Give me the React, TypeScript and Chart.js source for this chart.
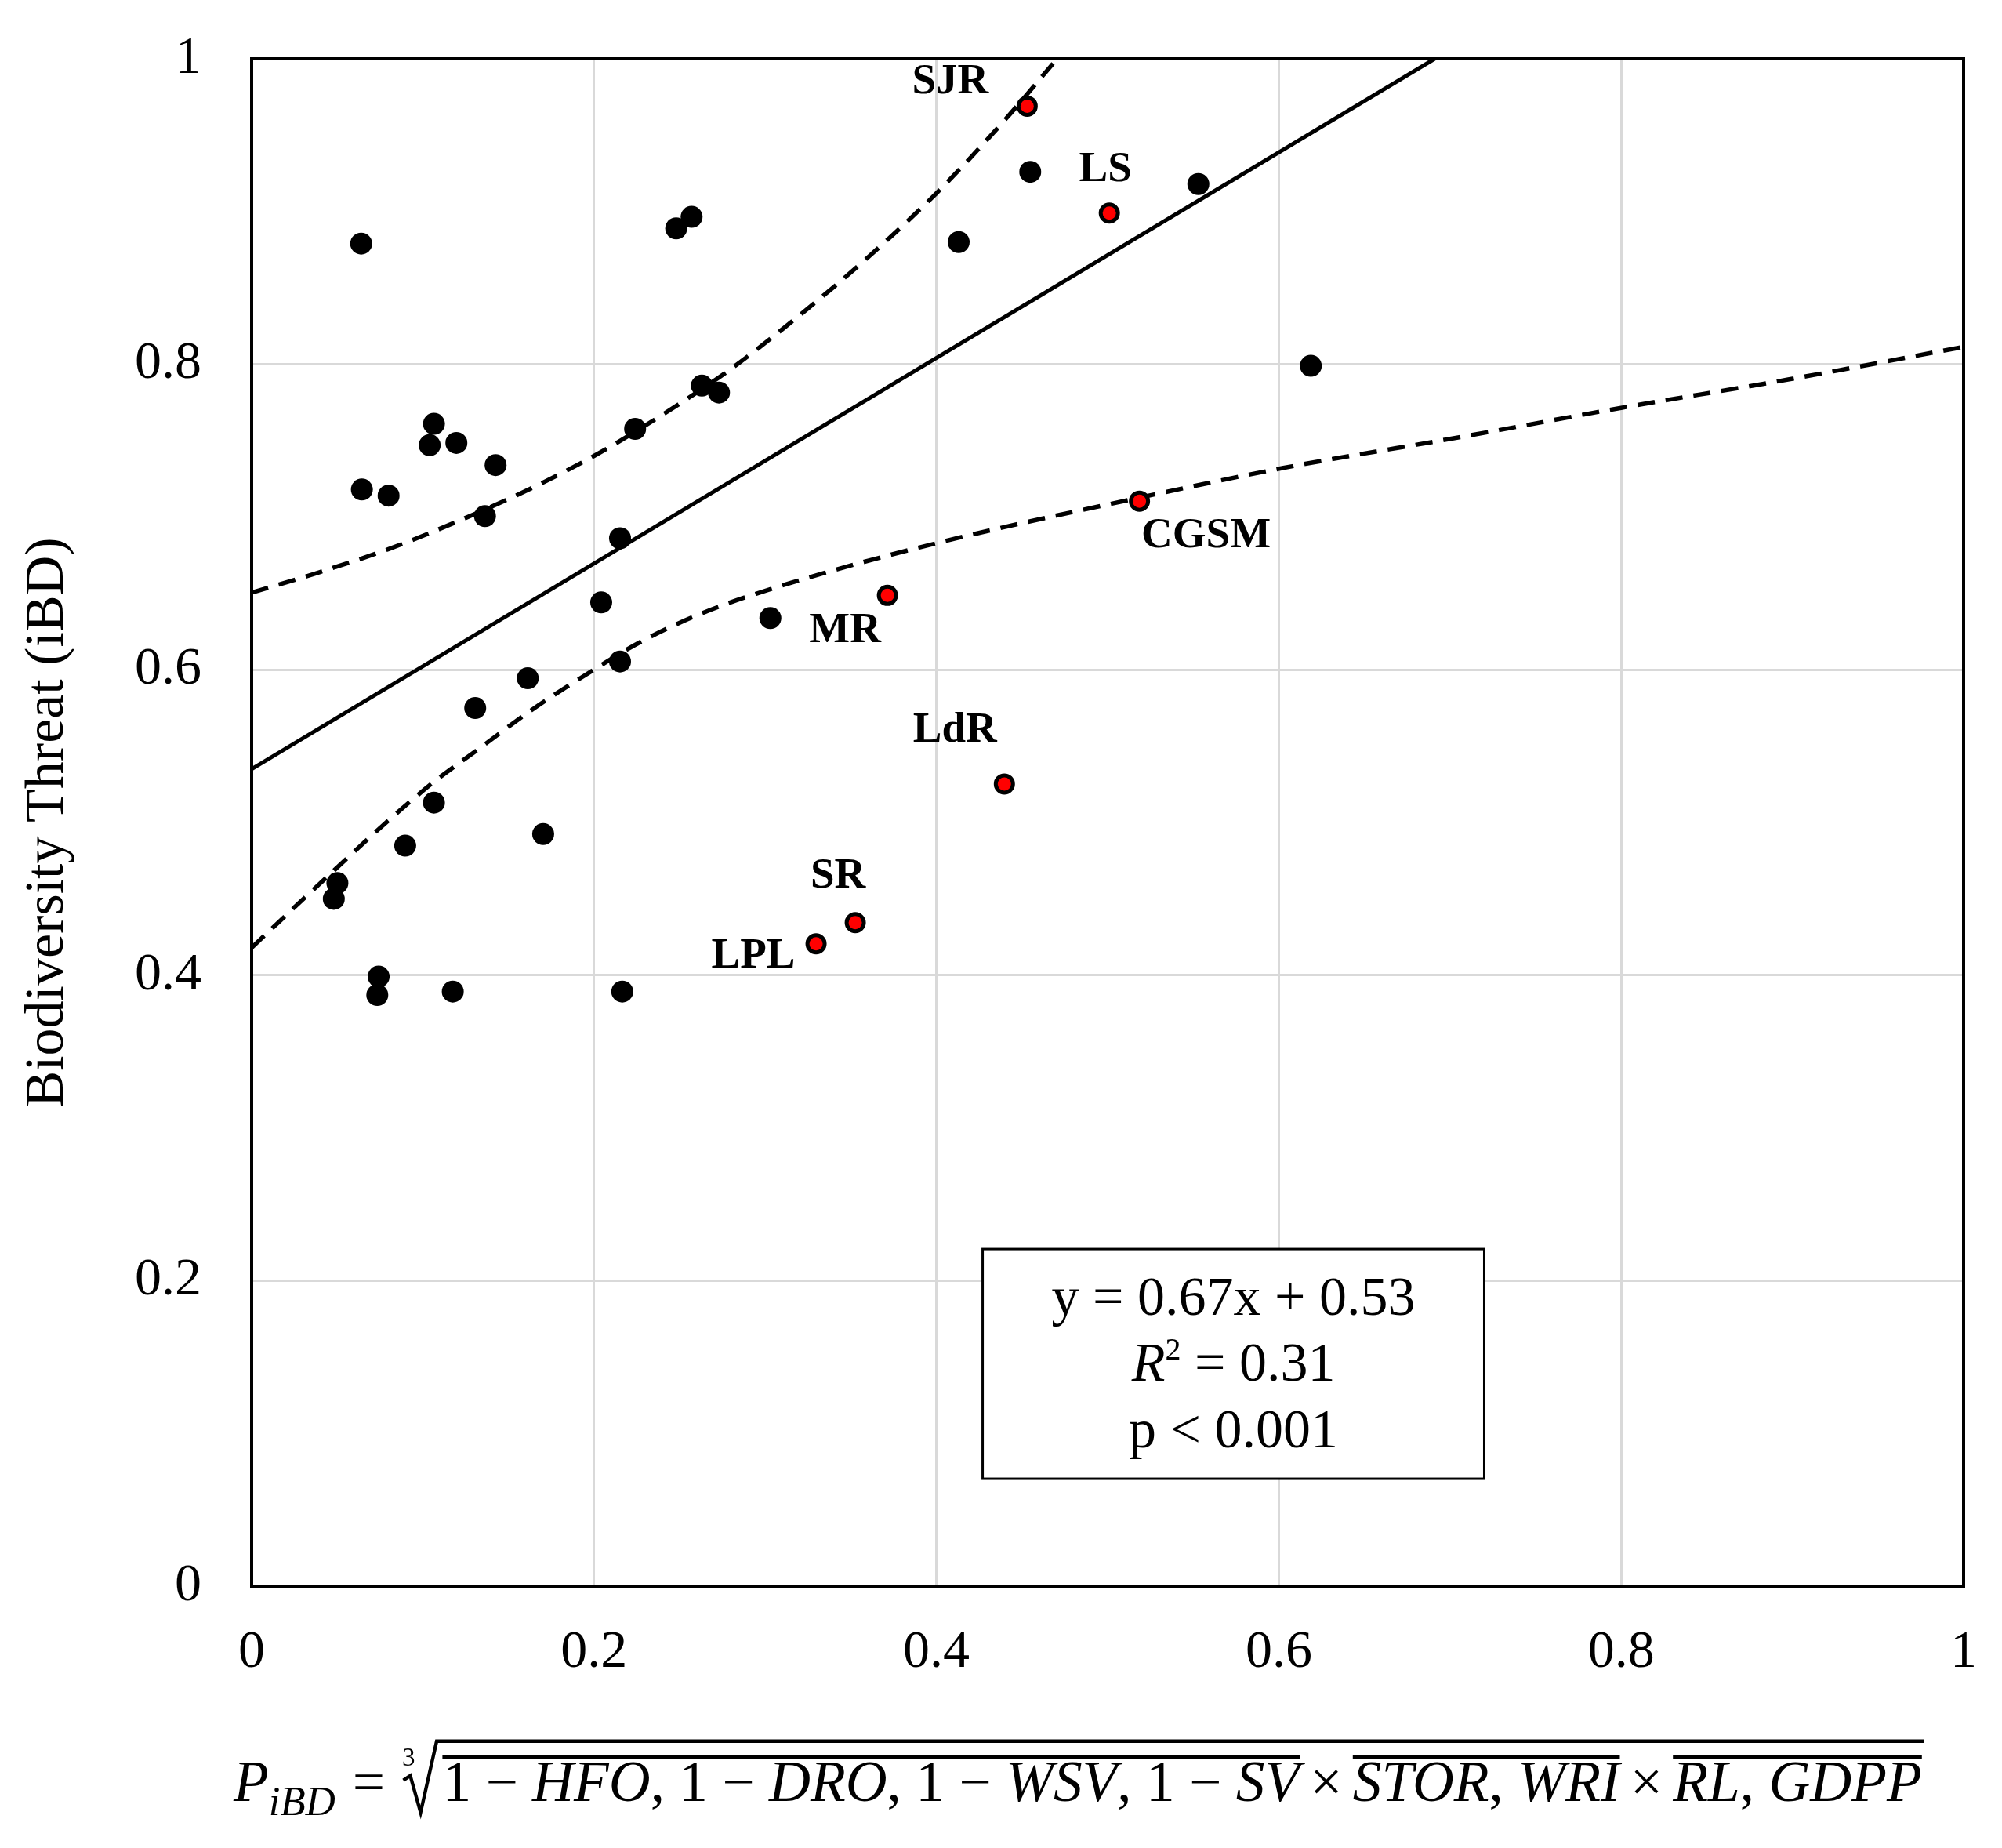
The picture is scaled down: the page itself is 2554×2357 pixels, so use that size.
import React, { useEffect, useRef } from "react";
import { Chart, registerables } from "chart.js";

Chart.register(...registerables);

// ---------- data ----------
const BLACK_X = [0.064, 0.0644, 0.08, 0.1065, 0.104, 0.1196, 0.1425, 0.1363, 0.248, 0.257, 0.263, 0.273, 0.224, 0.2152, 0.2042, 0.303, 0.2152, 0.1613, 0.1306, 0.1065, 0.1703, 0.0897, 0.0501, 0.048, 0.0742, 0.0734, 0.1175, 0.2165, 0.413, 0.4548, 0.553, 0.6187];
const BLACK_Y = [0.879, 0.718, 0.714, 0.761, 0.747, 0.7485, 0.734, 0.7006, 0.889, 0.8965, 0.786, 0.7815, 0.7577, 0.6861, 0.6441, 0.6338, 0.6054, 0.5944, 0.5749, 0.513, 0.4924, 0.4848, 0.4603, 0.45, 0.3991, 0.387, 0.3893, 0.3893, 0.88, 0.926, 0.918, 0.799];

const RED_NAMES = ["SJR", "LS", "CGSM", "MR", "LdR", "SR", "LPL"];
const RED_X = [0.453, 0.501, 0.5186, 0.3714, 0.4397, 0.3526, 0.3297];
const RED_Y = [0.969, 0.899, 0.7104, 0.6487, 0.5252, 0.4344, 0.4206];

const FIT_X = [0, 0.691];
const FIT_Y = [0.535, 1.0];

const UPPER_X = [0, 0.04, 0.08, 0.12, 0.16, 0.2, 0.24, 0.28, 0.32, 0.36, 0.4, 0.44, 0.4705];
const UPPER_Y = [0.6505, 0.664, 0.679, 0.697, 0.717, 0.74, 0.767, 0.797, 0.832, 0.87, 0.912, 0.96, 1.0];

const LOWER_X = [0, 0.0241, 0.0485, 0.0772, 0.1058, 0.1344, 0.163, 0.1999, 0.2285, 0.2653, 0.3153, 0.399, 0.518, 0.602, 0.708, 0.8006, 0.8975, 1.0];
const LOWER_Y = [0.418, 0.4435, 0.469, 0.4986, 0.526, 0.5496, 0.5732, 0.6, 0.619, 0.638, 0.657, 0.6826, 0.7125, 0.732, 0.7527, 0.7716, 0.79, 0.8114];

const X_TICK_LABELS = ["0", "0.2", "0.4", "0.6", "0.8", "1"];
const Y_TICK_LABELS = ["0", "0.2", "0.4", "0.6", "0.8", "1"];

const Y_TITLE = "Biodiversity Threat (iBD)";
const STATS_LINES = ["y = 0.67x + 0.53", "R2 = 0.31", "p < 0.001"];

// ---------- annotation placement (not data) ----------
const LABEL_OFFSETS: [number, number][] = [[-98, -31], [-5, -55], [85, 45], [-54, 45], [-63, -68], [-22, -59], [-80, 16]];
const STATS_BOX = { x0: 0.427, x1: 0.72, y0: 0.0703, y1: 0.2207 };

type Seg = { t: string; it?: boolean };
const FORMULA_GROUPS: Seg[][] = [
  [{ t: "1" }, { t: " − " }, { t: "HFO", it: true }, { t: ", " }, { t: "1" }, { t: " − " }, { t: "DRO", it: true }, { t: ", " }, { t: "1" }, { t: " − " }, { t: "WSV", it: true }, { t: ", " }, { t: "1" }, { t: " − " }, { t: "SV", it: true }],
  [{ t: "STOR", it: true }, { t: ", " }, { t: "WRI", it: true }],
  [{ t: "RL", it: true }, { t: ", " }, { t: "GDPP", it: true }],
];

const SERIF = '"Liberation Serif", "Times New Roman", serif';

function drawFormula(ctx: CanvasRenderingContext2D, x0: number, x1: number, baseline: number) {
  const up = (s: number) => `${s}px ${SERIF}`;
  const it = (s: number) => `italic ${s}px ${SERIF}`;
  const layout = (F: number, draw: boolean) => {
    let x = x0;
    const put = (t: string, font: string, dy = 0) => {
      ctx.font = font;
      const w = ctx.measureText(t).width;
      if (draw) ctx.fillText(t, x, baseline + dy);
      x += w;
    };
    put("P", it(F));
    put("iBD", it(0.72 * F), 0.24 * F);
    x += 0.3 * F;
    put("=", up(F));
    x += 0.3 * F;
    const rx = x;
    const topY = baseline - 1.04 * F;
    const radW = 0.6 * F;
    x += radW + 0.1 * F;
    const groupEnds: [number, number][] = [];
    FORMULA_GROUPS.forEach((g, gi) => {
      if (gi > 0) {
        x += 0.18 * F;
        put("×", up(F));
        x += 0.18 * F;
      }
      const gs = x;
      g.forEach((seg) => put(seg.t, seg.it ? it(F) : up(F)));
      groupEnds.push([gs, x]);
    });
    const endX = x + 0.04 * F;
    if (draw) {
      ctx.lineWidth = 0.06 * F;
      ctx.strokeStyle = "#000";
      groupEnds.forEach(([a, b]) => {
        ctx.beginPath();
        ctx.moveTo(a, baseline - 0.76 * F);
        ctx.lineTo(b, baseline - 0.76 * F);
        ctx.stroke();
      });
      ctx.font = up(0.45 * F);
      ctx.fillText("3", rx, baseline - 0.62 * F);
      ctx.lineJoin = "miter";
      ctx.beginPath();
      ctx.moveTo(rx + 0.02 * F, baseline - 0.36 * F);
      ctx.lineTo(rx + 0.14 * F, baseline - 0.44 * F);
      ctx.lineTo(rx + 0.32 * F, baseline + 0.2 * F);
      ctx.lineTo(rx + radW, topY);
      ctx.lineTo(endX, topY);
      ctx.stroke();
    }
    return endX - x0;
  };
  const natural = layout(100, false);
  const F = (100 * (x1 - x0)) / natural;
  ctx.save();
  ctx.fillStyle = "#000";
  ctx.textBaseline = "alphabetic";
  ctx.textAlign = "left";
  layout(F, true);
  ctx.restore();
}

const annotPlugin = {
  id: "annot",
  afterDatasetsDraw(chart: any) {
    const { ctx, chartArea, scales } = chart;
    const xs = scales.x;
    const ys = scales.y;
    ctx.save();
    // frame
    ctx.strokeStyle = "#000";
    ctx.lineWidth = 4;
    ctx.strokeRect(chartArea.left, chartArea.top, chartArea.right - chartArea.left, chartArea.bottom - chartArea.top);

    // point labels
    ctx.fillStyle = "#000";
    ctx.font = `bold 55px ${SERIF}`;
    ctx.textAlign = "center";
    ctx.textBaseline = "middle";
    RED_NAMES.forEach((name, i) => {
      const px = xs.getPixelForValue(RED_X[i]) + LABEL_OFFSETS[i][0];
      const py = ys.getPixelForValue(RED_Y[i]) + LABEL_OFFSETS[i][1];
      ctx.fillText(name, px, py);
    });

    // stats box
    const bx0 = xs.getPixelForValue(STATS_BOX.x0);
    const bx1 = xs.getPixelForValue(STATS_BOX.x1);
    const by0 = ys.getPixelForValue(STATS_BOX.y1);
    const by1 = ys.getPixelForValue(STATS_BOX.y0);
    ctx.fillStyle = "#fff";
    ctx.fillRect(bx0, by0, bx1 - bx0, by1 - by0);
    ctx.lineWidth = 3;
    ctx.strokeStyle = "#000";
    ctx.strokeRect(bx0, by0, bx1 - bx0, by1 - by0);
    ctx.fillStyle = "#000";
    const cx = (bx0 + bx1) / 2;
    const h = by1 - by0;
    const lineYs = [by0 + h * 0.222, by0 + h * 0.512, by0 + h * 0.802];
    ctx.textBaseline = "middle";
    ctx.textAlign = "center";
    ctx.font = `70px ${SERIF}`;
    ctx.fillText(STATS_LINES[0], cx, lineYs[0]);
    ctx.fillText(STATS_LINES[2], cx, lineYs[2]);
    // R^2 line with italic R and superscript 2
    const rest = " = 0.31";
    ctx.font = `italic 70px ${SERIF}`;
    const wR = ctx.measureText("R").width;
    ctx.font = `40px ${SERIF}`;
    const w2 = ctx.measureText("2").width;
    ctx.font = `70px ${SERIF}`;
    const wRest = ctx.measureText(rest).width;
    let sx = cx - (wR + w2 + wRest) / 2;
    ctx.textAlign = "left";
    ctx.font = `italic 70px ${SERIF}`;
    ctx.fillText("R", sx, lineYs[1]);
    sx += wR;
    ctx.font = `40px ${SERIF}`;
    ctx.fillText("2", sx, lineYs[1] - 20);
    sx += w2;
    ctx.font = `70px ${SERIF}`;
    ctx.fillText(rest, sx, lineYs[1]);

    // x axis formula title
    drawFormula(ctx, 290, 2447, 2289);
    ctx.restore();
  },
};

export default function App() {
  const ref = useRef<HTMLCanvasElement | null>(null);
  useEffect(() => {
    if (!ref.current) return;
    const toPts = (xs: number[], ys: number[]) => xs.map((x, i) => ({ x, y: ys[i] }));
    const chart = new Chart(ref.current, {
      type: "scatter",
      data: {
        datasets: [
          {
            label: "sites",
            data: toPts(BLACK_X, BLACK_Y),
            backgroundColor: "#000",
            borderColor: "#000",
            pointRadius: 14,
            pointBorderWidth: 0,
            order: 0,
          },
          {
            label: "highlighted",
            data: toPts(RED_X, RED_Y),
            backgroundColor: "#ff0000",
            borderColor: "#000",
            pointRadius: 11,
            pointBorderWidth: 5,
            order: 0,
          },
          {
            label: "fit",
            data: toPts(FIT_X, FIT_Y),
            showLine: true,
            borderColor: "#000",
            borderWidth: 5,
            pointRadius: 0,
            order: 2,
          } as any,
          {
            label: "upper",
            data: toPts(UPPER_X, UPPER_Y),
            showLine: true,
            borderColor: "#000",
            borderWidth: 5.5,
            borderDash: [22, 14],
            cubicInterpolationMode: "monotone",
            pointRadius: 0,
            order: 2,
          } as any,
          {
            label: "lower",
            data: toPts(LOWER_X, LOWER_Y),
            showLine: true,
            borderColor: "#000",
            borderWidth: 5.5,
            borderDash: [22, 14],
            cubicInterpolationMode: "monotone",
            pointRadius: 0,
            order: 2,
          } as any,
        ],
      },
      options: {
        animation: false,
        responsive: false,
        devicePixelRatio: 1,
        events: [],
        layout: { padding: { top: 67, right: 41, left: 0, bottom: 0 } },
        plugins: { legend: { display: false }, tooltip: { enabled: false } },
        scales: {
          x: {
            type: "linear",
            min: 0,
            max: 1,
            afterFit: (s: any) => {
              s.height = 326;
              s.paddingLeft = 17;
              s.paddingRight = 17;
            },
            ticks: {
              stepSize: 0.2,
              padding: 44,
              color: "#000",
              font: { family: SERIF, size: 68 },
              callback: (_v: any, i: number) => X_TICK_LABELS[i],
              maxRotation: 0,
            },
            grid: { color: "#d9d9d9", lineWidth: 3, drawTicks: false },
            border: { display: true, color: "#000", width: 4 },
          },
          y: {
            type: "linear",
            min: 0,
            max: 1,
            afterFit: (s: any) => {
              s.width = 313;
              s.paddingTop = 41;
              s.paddingBottom = 41;
            },
            ticks: {
              stepSize: 0.2,
              padding: 64,
              color: "#000",
              font: { family: SERIF, size: 68 },
              callback: (_v: any, i: number) => Y_TICK_LABELS[i],
            },
            grid: { color: "#d9d9d9", lineWidth: 3, drawTicks: false },
            border: { display: true, color: "#000", width: 4 },
            title: {
              display: true,
              text: Y_TITLE,
              color: "#000",
              font: { family: SERIF, size: 70 },
              padding: { top: 12, bottom: 0 },
            },
          },
        },
      } as any,
      plugins: [annotPlugin],
    });
    return () => chart.destroy();
  }, []);
  return (
    <canvas
      ref={ref}
      width={2538}
      height={2341}
      style={{ display: "block", width: "2538px", height: "2341px" }}
    />
  );
}
